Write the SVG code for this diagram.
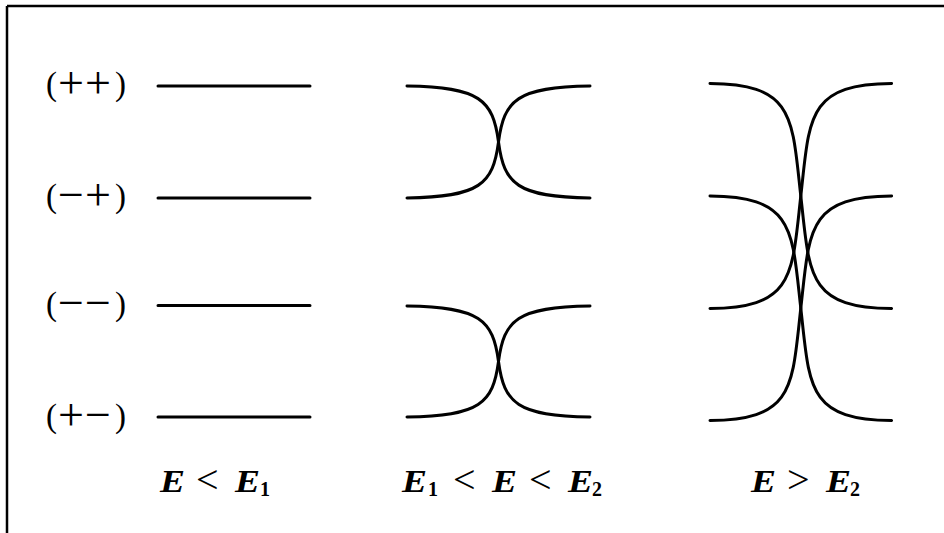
<svg xmlns="http://www.w3.org/2000/svg" width="944" height="533" viewBox="0 0 944 533">
<style>
.frame{fill:none;stroke:#000;stroke-width:2.5}
.lv{fill:none;stroke:#000;stroke-width:3;stroke-linecap:round;stroke-linejoin:round}
.lab{font-family:"Liberation Serif","DejaVu Serif",serif;font-size:33px;fill:#000}
.op{font-size:46px}
.mi{font-family:"Liberation Serif","DejaVu Serif",serif;font-size:32px;font-weight:bold;font-style:italic;fill:#000}
.rel{font-family:"Liberation Serif","DejaVu Serif",serif;font-size:40px;fill:#000}
.sub{font-family:"Liberation Serif","DejaVu Serif",serif;font-size:20px;font-weight:bold;fill:#000}
</style>
<rect width="944" height="533" fill="#fff"/>
<g id="frame">
<path class="frame" d="M7,6 H944 M7,6 V533"/>
</g>
<g id="state-labels">
<text class="lab" y="95"><tspan x="46">(</tspan><tspan class="op" x="58" y="97.5">+</tspan><tspan class="op" x="85" y="97.5">+</tspan><tspan x="115" y="95">)</tspan></text>
<text class="lab" y="207"><tspan x="46">(</tspan><tspan class="op" x="58" y="209.5">−</tspan><tspan class="op" x="85" y="209.5">+</tspan><tspan x="115" y="207">)</tspan></text>
<text class="lab" y="315"><tspan x="46">(</tspan><tspan class="op" x="58" y="317.5">−</tspan><tspan class="op" x="85" y="317.5">−</tspan><tspan x="115" y="315">)</tspan></text>
<text class="lab" y="427"><tspan x="46">(</tspan><tspan class="op" x="58" y="429.5">+</tspan><tspan class="op" x="85" y="429.5">−</tspan><tspan x="115" y="427">)</tspan></text>
</g>
<g id="panel-left">
<path class="lv" d="M158,86 H310 M158,198 H310 M158,305.5 H310 M158,417 H310"/>
</g>
<g id="panel-middle">
<path class="lv" d="M407,86 C480,87 493,100 498.5,142 C504,184 517,197 590,198"/>
<path class="lv" d="M590,86 C517,87 504,100 498.5,142 C493,184 480,197 407,198"/>
<path class="lv" d="M407,306 C480,307 493,320 498.5,361.5 C504,403 517,416 590,417"/>
<path class="lv" d="M590,306 C517,307 504,320 498.5,361.5 C493,403 480,416 407,417"/>
</g>
<g id="panel-right">
<path class="lv" d="M710,83.5 C795,84 792,118 800.8,196 C809.6,274 806.6,308 891.6,308.5"/>
<path class="lv" d="M891.6,83.5 C806.6,84 809.6,118 800.8,196 C792,274 795,308 710,308.5"/>
<path class="lv" d="M710,196 C795,196.5 792,230.5 800.8,308.25 C809.6,386 806.6,420 891.6,420.5"/>
<path class="lv" d="M891.6,196 C806.6,196.5 809.6,230.5 800.8,308.25 C792,386 795,420 710,420.5"/>
</g>
<g id="caption-left">
<text class="mi" x="160" y="492" textLength="25" lengthAdjust="spacingAndGlyphs">E</text>
<text class="rel" x="196" y="493">&lt;</text>
<text class="mi" x="235" y="492" textLength="25" lengthAdjust="spacingAndGlyphs">E</text>
<text class="sub" x="260" y="496">1</text>
</g>
<g id="caption-middle">
<text class="mi" x="402" y="492" textLength="25" lengthAdjust="spacingAndGlyphs">E</text>
<text class="sub" x="428" y="496">1</text>
<text class="rel" x="453" y="493">&lt;</text>
<text class="mi" x="492" y="492" textLength="25" lengthAdjust="spacingAndGlyphs">E</text>
<text class="rel" x="529" y="493">&lt;</text>
<text class="mi" x="568" y="492" textLength="25" lengthAdjust="spacingAndGlyphs">E</text>
<text class="sub" x="592" y="496">2</text>
</g>
<g id="caption-right">
<text class="mi" x="751" y="492" textLength="25" lengthAdjust="spacingAndGlyphs">E</text>
<text class="rel" x="787" y="493">&gt;</text>
<text class="mi" x="826" y="492" textLength="25" lengthAdjust="spacingAndGlyphs">E</text>
<text class="sub" x="850" y="496">2</text>
</g>
</svg>
